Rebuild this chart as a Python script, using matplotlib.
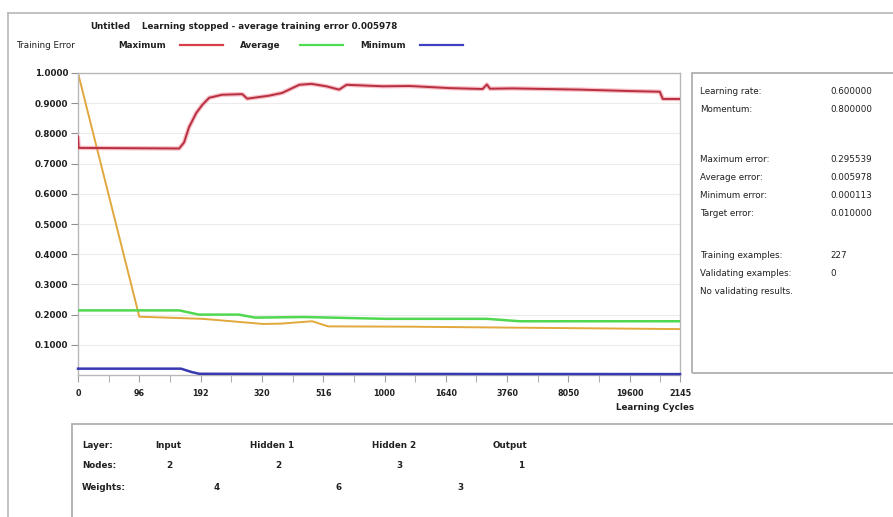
import matplotlib
matplotlib.use("Agg")
import matplotlib.pyplot as plt
from matplotlib.patches import Rectangle
from matplotlib.lines import Line2D

W, H = 893, 517

# ---------------- data ----------------
x_tick_pos = [0, 1, 2, 3, 4, 5, 6, 7, 8, 9, 9.82]
x_tick_labels = ["0", "96", "192", "320", "516", "1000", "1640", "3760", "8050", "19600", "2145"]
y_ticks = [0.1, 0.2, 0.3, 0.4, 0.5, 0.6, 0.7, 0.8, 0.9, 1.0]

max_x = [0, 0.01, 1.65, 1.73, 1.81, 1.93, 2.03, 2.14, 2.35, 2.68, 2.76, 3.12, 3.33, 3.61,
         3.81, 4.05, 4.26, 4.38, 4.97, 5.41, 6.06, 6.60, 6.67, 6.72, 7.09, 8.19, 9.05,
         9.49, 9.54, 9.82]
max_y = [0.79, 0.752, 0.75, 0.77, 0.82, 0.868, 0.895, 0.918, 0.928, 0.93, 0.915, 0.925,
         0.934, 0.961, 0.964, 0.956, 0.945, 0.961, 0.956, 0.957, 0.95, 0.947, 0.962,
         0.948, 0.949, 0.945, 0.94, 0.938, 0.914, 0.914]

avg_x = [0, 1.65, 1.97, 2.62, 2.89, 3.69, 5.02, 6.67, 7.2, 9.82]
avg_y = [0.214, 0.214, 0.200, 0.200, 0.190, 0.192, 0.186, 0.186, 0.178, 0.178]

min_x = [0, 1.68, 1.85, 1.98, 9.82]
min_y = [0.021, 0.021, 0.010, 0.004, 0.003]

ext_x = [0, 1.0, 2.03, 2.5, 3.02, 3.3, 3.82, 4.08, 5.4, 7.0, 9.82]
ext_y = [1.0, 0.193, 0.186, 0.178, 0.169, 0.170, 0.178, 0.161, 0.160, 0.157, 0.152]

info_labels = ["Learning rate:", "Momentum:", "Maximum error:", "Average error:",
               "Minimum error:", "Target error:", "Training examples:",
               "Validating examples:", "No validating results."]
info_values = ["0.600000", "0.800000", "0.295539", "0.005978", "0.000113", "0.010000",
               "227", "0", ""]

layers = ["Input", "Hidden 1", "Hidden 2", "Output"]
nodes = ["2", "2", "3", "1"]
weights = ["4", "6", "3"]

# ---------------- figure ----------------
plt.rcParams['font.family'] = ['DejaVu Sans']
fig = plt.figure(figsize=(W / 100, H / 100), dpi=100)


def fx(px):
    return px / W


def fy(py):
    return 1 - py / H


TXT = '#202020'
FS = 6.3

# outer frame lines
fig.add_artist(Line2D([fx(8), fx(893)], [fy(13), fy(13)], color='#b8b8b8', lw=1.2))
fig.add_artist(Line2D([fx(8), fx(8)], [fy(13), fy(517)], color='#b8b8b8', lw=1.2))

# header
fig.text(fx(90), fy(27), "Untitled", fontsize=FS, color=TXT, va='center', fontweight='bold')
fig.text(fx(142), fy(27), "Learning stopped - average training error 0.005978",
         fontsize=FS, color=TXT, va='center', fontweight='bold')
fig.text(fx(16), fy(45), "Training Error", fontsize=FS, color=TXT, va='center')
legend_items = [("Maximum", 118, 180, '#d8404c'), ("Average", 240, 300, '#50dc50'),
                ("Minimum", 360, 420, '#4040c0')]
for name, tx, lx, c in legend_items:
    fig.text(fx(tx), fy(45), name, fontsize=FS, color=TXT, va='center', fontweight='bold')
    fig.add_artist(Line2D([fx(lx), fx(lx + 43)], [fy(45), fy(45)], color=c, lw=1.6))

# main axes
L, R, T, B = 78, 680, 73, 375
ax = fig.add_axes([fx(L), fy(B), fx(R - L), (B - T) / H])
ax.set_xlim(0, 9.82)
ax.set_ylim(0, 1.0)

for yv in y_ticks:
    ax.axhline(yv, color='#ececec', lw=0.8, zorder=0)

ax.plot(ext_x, ext_y, color='#e2a83c', lw=1.4, zorder=2)
ax.plot(avg_x, avg_y, color='#50d850', lw=1.8, zorder=3)
ax.plot(max_x, max_y, color='#f08090', lw=3.2, alpha=0.5, zorder=3, solid_capstyle='butt')
ax.plot(max_x, max_y, color='#b83040', lw=1.4, zorder=4)
ax.plot(min_x, min_y, color='#3838b0', lw=1.8, zorder=4, clip_on=False)

for s in ax.spines.values():
    s.set_color('#b8b8b8')
    s.set_linewidth(1.0)

ax.set_yticks(y_ticks)
ax.set_yticklabels(["%.4f" % v for v in y_ticks], fontsize=FS, color=TXT, fontweight='bold')
ax.tick_params(axis='y', length=5, color='#909090', pad=2)

minor = [i * 0.5 for i in range(0, 20)]
ax.set_xticks(minor, minor=True)
ax.tick_params(axis='x', which='minor', length=5, color='#a0a0a0')
ax.set_xticks(x_tick_pos)
ax.set_xticklabels(x_tick_labels, fontsize=FS - 0.5, color=TXT, fontweight='bold')
ax.tick_params(axis='x', which='major', length=5, color='#a0a0a0', pad=5)

fig.text(fx(655), fy(408), "Learning Cycles", fontsize=FS, color=TXT, ha='center',
         va='center', fontweight='bold')

# info panel
fig.add_artist(Rectangle((fx(692), fy(373)), fx(210), (373 - 73) / H,
                         transform=fig.transFigure, fill=False, edgecolor='#b0b0b0', lw=1.3))
info_y = [92, 110, 159, 177, 195, 213, 256, 273, 291]
for lab, val, yy in zip(info_labels, info_values, info_y):
    fig.text(fx(700), fy(yy), lab, fontsize=FS, color=TXT, va='center')
    if val:
        fig.text(fx(830), fy(yy), val, fontsize=FS, color=TXT, va='center')

# bottom panel
fig.add_artist(Rectangle((fx(72), fy(520)), fx(830), (520 - 424) / H,
                         transform=fig.transFigure, fill=False, edgecolor='#b0b0b0', lw=1.3))
fig.text(fx(82), fy(446), "Layer:", fontsize=FS, color=TXT, va='center', fontweight='bold')
fig.text(fx(82), fy(466), "Nodes:", fontsize=FS, color=TXT, va='center', fontweight='bold')
fig.text(fx(82), fy(488), "Weights:", fontsize=FS, color=TXT, va='center', fontweight='bold')
layer_x = [155, 250, 372, 493]
node_x = [169, 278, 399, 521]
weight_x = [217, 339, 460]
for name, lx in zip(layers, layer_x):
    fig.text(fx(lx), fy(446), name, fontsize=FS, color=TXT, va='center', fontweight='bold')
for n, nx in zip(nodes, node_x):
    fig.text(fx(nx), fy(466), n, fontsize=FS, color=TXT, va='center', ha='center',
             fontweight='bold')
for wv, wx in zip(weights, weight_x):
    fig.text(fx(wx), fy(488), wv, fontsize=FS, color=TXT, va='center', ha='center',
             fontweight='bold')

fig.savefig("out.png", dpi=100)
